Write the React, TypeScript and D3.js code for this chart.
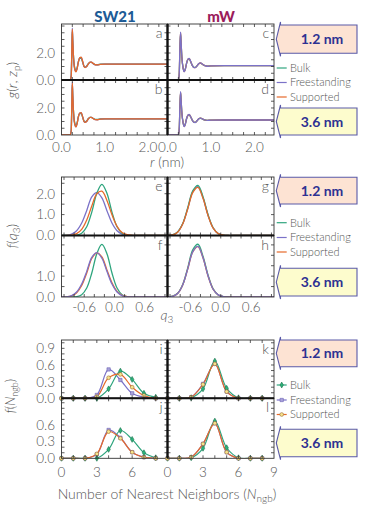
import React from "react";
import * as d3 from "d3";

// ---------------- series meta ----------------
const SERIES_NAMES = ["Bulk", "Freestanding", "Supported"];
const SERIES_COLORS = ["#2fa57e", "#7b72c8", "#e6692a"];
const MARKER_FILLS = ["#2bb37a", "#aaa3da", "#f6e38c"];
const MARKER_STROKES = ["#1d6e4c", "#6a60b4", "#9a6a32"];

// ---------------- g(r, z_p) ----------------
const R_SW21 = [0, 0.2, 0.225, 0.24, 0.25, 0.26, 0.28, 0.31, 0.335, 0.36, 0.39, 0.42, 0.455, 0.49, 0.52, 0.545, 0.58, 0.62, 0.66, 0.69, 0.73, 0.78, 0.83, 0.9, 1.0, 1.3, 1.8, 2.45];
const GA_BULK = [0, 0, 0.3, 2.3, 3.6, 2.9, 1.6, 0.85, 0.7, 0.9, 1.35, 1.6, 1.6, 1.3, 1.03, 0.96, 1.02, 1.2, 1.3, 1.3, 1.22, 1.14, 1.13, 1.17, 1.18, 1.18, 1.18, 1.18];
const GA_FREE = [0, 0, 0.35, 2.5, 3.85, 3.0, 1.55, 0.75, 0.62, 0.85, 1.35, 1.65, 1.68, 1.35, 1.0, 0.93, 1.0, 1.2, 1.32, 1.32, 1.22, 1.13, 1.12, 1.16, 1.18, 1.18, 1.18, 1.18];
const GA_SUP = [0, 0, 0.3, 2.4, 3.75, 2.95, 1.55, 0.75, 0.6, 0.82, 1.32, 1.65, 1.7, 1.37, 1.0, 0.92, 0.99, 1.19, 1.32, 1.33, 1.23, 1.13, 1.12, 1.16, 1.18, 1.18, 1.18, 1.18];
const GB_BULK = [0, 0, 0.3, 2.4, 3.7, 2.9, 1.6, 0.85, 0.7, 0.9, 1.35, 1.58, 1.58, 1.3, 1.05, 0.98, 1.03, 1.2, 1.3, 1.3, 1.23, 1.16, 1.15, 1.19, 1.2, 1.2, 1.2, 1.2];
const GB_FREE = [0, 0, 0.35, 2.6, 3.9, 3.0, 1.55, 0.75, 0.6, 0.84, 1.35, 1.62, 1.65, 1.33, 1.0, 0.93, 1.0, 1.2, 1.31, 1.31, 1.22, 1.14, 1.13, 1.17, 1.19, 1.19, 1.19, 1.19];
const GB_SUP = [0, 0, 0.35, 2.55, 3.85, 3.0, 1.55, 0.75, 0.6, 0.83, 1.34, 1.63, 1.66, 1.34, 1.0, 0.93, 1.0, 1.2, 1.31, 1.31, 1.22, 1.14, 1.13, 1.17, 1.19, 1.19, 1.19, 1.19];

const R_MW = [0, 0.25, 0.27, 0.285, 0.3, 0.31, 0.33, 0.36, 0.385, 0.41, 0.44, 0.47, 0.5, 0.53, 0.57, 0.61, 0.64, 0.68, 0.72, 0.76, 0.8, 0.86, 0.92, 1.0, 1.3, 1.8, 2.45];
const GC_BULK = [0, 0, 0.4, 2.2, 3.4, 2.9, 1.7, 0.88, 0.66, 0.82, 1.25, 1.52, 1.56, 1.38, 1.08, 0.93, 0.93, 1.05, 1.2, 1.25, 1.17, 1.06, 1.03, 1.05, 1.06, 1.06, 1.06];
const GC_FREE = [0, 0, 0.5, 2.4, 3.55, 3.0, 1.7, 0.85, 0.62, 0.8, 1.25, 1.55, 1.6, 1.4, 1.08, 0.92, 0.92, 1.05, 1.22, 1.27, 1.18, 1.06, 1.02, 1.05, 1.06, 1.06, 1.06];
const GC_SUP = [0, 0, 0.45, 2.3, 3.5, 2.95, 1.7, 0.86, 0.63, 0.81, 1.25, 1.54, 1.58, 1.39, 1.08, 0.92, 0.92, 1.05, 1.21, 1.26, 1.18, 1.06, 1.02, 1.05, 1.06, 1.06, 1.06];
const GD_BULK = [0, 0, 0.4, 2.0, 3.1, 2.7, 1.65, 0.9, 0.66, 0.82, 1.22, 1.45, 1.5, 1.36, 1.1, 0.95, 0.94, 1.06, 1.2, 1.24, 1.19, 1.11, 1.08, 1.1, 1.11, 1.11, 1.11];
const GD_FREE = [0, 0, 0.45, 2.1, 3.2, 2.75, 1.65, 0.88, 0.62, 0.8, 1.22, 1.46, 1.52, 1.37, 1.1, 0.93, 0.92, 1.05, 1.2, 1.25, 1.2, 1.11, 1.08, 1.1, 1.11, 1.11, 1.11];
const GD_SUP = [0, 0, 0.42, 2.05, 3.15, 2.72, 1.65, 0.89, 0.63, 0.81, 1.22, 1.46, 1.51, 1.37, 1.1, 0.94, 0.93, 1.05, 1.2, 1.25, 1.2, 1.11, 1.08, 1.1, 1.11, 1.11, 1.11];

// ---------------- f(q3) ----------------
const Q3 = [-1.05, -0.95, -0.85, -0.75, -0.65, -0.55, -0.45, -0.35, -0.25, -0.15, -0.05, 0.05, 0.15, 0.25, 0.35, 0.45, 0.55, 0.65, 0.75, 0.85, 0.95, 1.05];
const FE_BULK = [0, 0, 0, 0.02, 0.11, 0.42, 1.12, 2.02, 2.45, 2.02, 1.12, 0.42, 0.11, 0.02, 0, 0, 0, 0, 0, 0, 0, 0];
const FE_FREE = [0, 0.01, 0.07, 0.23, 0.6, 1.2, 1.85, 2.05, 1.8, 1.19, 0.6, 0.23, 0.07, 0.01, 0, 0, 0, 0, 0, 0, 0, 0];
const FE_SUP = [0, 0, 0.02, 0.09, 0.29, 0.74, 1.41, 2.0, 2.12, 1.68, 0.99, 0.44, 0.14, 0.04, 0.01, 0, 0, 0, 0, 0, 0, 0];
const FF_BULK = [0, 0, 0, 0.02, 0.11, 0.43, 1.15, 2.08, 2.52, 2.08, 1.15, 0.43, 0.11, 0.02, 0, 0, 0, 0, 0, 0, 0, 0];
const FF_FREE = [0, 0.01, 0.07, 0.24, 0.62, 1.23, 1.9, 2.13, 1.86, 1.23, 0.62, 0.24, 0.07, 0.01, 0, 0, 0, 0, 0, 0, 0, 0];
const FF_SUP = [0, 0.01, 0.05, 0.2, 0.55, 1.15, 1.85, 2.12, 1.92, 1.3, 0.68, 0.27, 0.08, 0.02, 0, 0, 0, 0, 0, 0, 0, 0];
const FG_BULK = [0.01, 0.035, 0.17, 0.57, 1.34, 2.15, 2.4, 1.86, 0.99, 0.37, 0.09, 0.02, 0, 0, 0, 0, 0, 0, 0, 0, 0, 0];
const FG_FREE = [0.01, 0.03, 0.17, 0.56, 1.3, 2.1, 2.34, 1.81, 0.97, 0.36, 0.09, 0.02, 0, 0, 0, 0, 0, 0, 0, 0, 0, 0];
const FG_SUP = [0.01, 0.03, 0.16, 0.55, 1.28, 2.06, 2.3, 1.78, 0.95, 0.35, 0.09, 0.02, 0, 0, 0, 0, 0, 0, 0, 0, 0, 0];
const FH_BULK = [0.01, 0.04, 0.18, 0.6, 1.41, 2.27, 2.53, 1.96, 1.05, 0.39, 0.1, 0.02, 0, 0, 0, 0, 0, 0, 0, 0, 0, 0];
const FH_FREE = [0.01, 0.035, 0.17, 0.58, 1.35, 2.18, 2.43, 1.88, 1.01, 0.37, 0.1, 0.02, 0, 0, 0, 0, 0, 0, 0, 0, 0, 0];
const FH_SUP = [0.01, 0.035, 0.17, 0.58, 1.35, 2.17, 2.42, 1.88, 1.0, 0.37, 0.095, 0.02, 0, 0, 0, 0, 0, 0, 0, 0, 0, 0];

// ---------------- f(N_ngb) ----------------
const NGB = [0, 1, 2, 3, 4, 5, 6, 7, 8];
const NI_BULK = [0, 0, 0, 0, 0.17, 0.49, 0.34, 0.09, 0.02];
const NI_FREE = [0, 0, 0, 0.06, 0.52, 0.33, 0.09, 0.02, 0];
const NI_SUP = [0, 0, 0, 0.03, 0.37, 0.43, 0.2, 0.05, 0];
const NJ_BULK = [0, 0, 0, 0, 0.16, 0.5, 0.34, 0.1, 0.01];
const NJ_FREE = [0, 0, 0, 0.07, 0.51, 0.37, 0.11, 0.02, 0];
const NJ_SUP = [0, 0, 0, 0.08, 0.48, 0.36, 0.11, 0.02, 0];
const NK_BULK = [0, 0, 0.01, 0.17, 0.67, 0.18, 0.01, 0, 0];
const NK_FREE = [0, 0, 0.02, 0.26, 0.62, 0.12, 0, 0, 0];
const NK_SUP = [0, 0, 0.02, 0.25, 0.62, 0.12, 0, 0, 0];
const NL_BULK = [0, 0, 0.01, 0.18, 0.67, 0.19, 0.01, 0, 0];
const NL_FREE = [0, 0, 0.02, 0.26, 0.63, 0.11, 0, 0, 0];
const NL_SUP = [0, 0, 0.02, 0.26, 0.63, 0.11, 0, 0, 0];

// ---------------- ticks / labels ----------------
const R_TICKS = [0, 1, 2];
const R_MINOR = [0.25, 0.5, 0.75, 1, 1.25, 1.5, 1.75, 2, 2.25];
const G_YTICKS = [[0, 2], [0, 2]];
const G_YMINOR = [0.5, 1, 1.5, 2, 2.5, 3, 3.5, 4];
const Q_TICKS = [-0.6, 0, 0.6];
const Q_MINOR = [-1.0, -0.8, -0.6, -0.4, -0.2, 0, 0.2, 0.4, 0.6, 0.8, 1.0];
const F_YTICKS = [[0, 1, 2], [0, 1]];
const F_YMINOR = [0.5, 1, 1.5, 2, 2.5];
const N_TICKS = [[0, 3, 6], [0, 3, 6, 9]];
const N_MINOR = [1, 2, 3, 4, 5, 6, 7, 8];
const NY_TICKS = [[0, 0.3, 0.6, 0.9], [0, 0.3, 0.6]];
const NY_MINOR = [0.1, 0.2, 0.3, 0.4, 0.5, 0.6, 0.7, 0.8, 0.9, 1.0];
const SIZE_LABELS = ["1.2 nm", "3.6 nm"];
const MODEL_TITLES = ["SW21", "mW"];

// ---------------- layout ----------------
const W = 365, H = 505;
const X0 = 61.5, XM = 167.5, X2 = 274;
const FONT = "Lato, 'Open Sans', 'DejaVu Sans', sans-serif";
const TXT = "#555";

type Section = {
  rows: number[];
  xDomain: [number, number];
  yMax: number[];
  xTicks: (col: number) => number[];
  xMinor: number[];
  yTicks: number[][];
  yMinor: number[];
  fmtX: (v: number) => string;
  fmtY: (v: number) => string;
  xLabelY: number;
  curve: any;
  width: number;
  markers: boolean;
  legendY: number[];
  arrows: [number, number][];
};

const SECTIONS: Record<string, Section> = {
  g: {
    rows: [24, 80, 135], xDomain: [0, 2.45], yMax: [4.15, 4.07],
    xTicks: () => R_TICKS, xMinor: R_MINOR, yTicks: G_YTICKS, yMinor: G_YMINOR,
    fmtX: d3.format(".1f"), fmtY: d3.format(".1f"), xLabelY: 151.5,
    curve: d3.curveMonotoneX, width: 1.3, markers: false,
    legendY: [68, 82.5, 97], arrows: [[25, 53.3], [108, 135]],
  },
  q: {
    rows: [177, 235.5, 297], xDomain: [-1.05, 1.05], yMax: [2.8, 2.95],
    xTicks: () => Q_TICKS, xMinor: Q_MINOR, yTicks: F_YTICKS, yMinor: F_YMINOR,
    fmtX: (v) => (v === 0 ? "0.0" : d3.format(".1f")(v)), fmtY: d3.format(".1f"), xLabelY: 311.5,
    curve: d3.curveCatmullRom.alpha(0.5), width: 1.3, markers: false,
    legendY: [222.7, 237.5, 252], arrows: [[177.3, 204], [268.3, 296]],
  },
  n: {
    rows: [340, 398.3, 458.3], xDomain: [0, 9], yMax: [1.05, 1.08],
    xTicks: (col) => N_TICKS[col], xMinor: N_MINOR, yTicks: NY_TICKS, yMinor: NY_MINOR,
    fmtX: d3.format("d"), fmtY: d3.format(".1f"), xLabelY: 476.5,
    curve: d3.curveCatmullRom.alpha(0.5), width: 1.2, markers: true,
    legendY: [385, 400, 414.5], arrows: [[340, 366.7], [429.3, 456.7]],
  },
};

type PanelCfg = { letter: string; sec: string; col: number; row: number; xs: number[]; series: number[][]; order: number[] };

const PANELS: PanelCfg[] = [
  { letter: "a", sec: "g", col: 0, row: 0, xs: R_SW21, series: [GA_BULK, GA_FREE, GA_SUP], order: [0, 1, 2] },
  { letter: "b", sec: "g", col: 0, row: 1, xs: R_SW21, series: [GB_BULK, GB_FREE, GB_SUP], order: [0, 1, 2] },
  { letter: "c", sec: "g", col: 1, row: 0, xs: R_MW, series: [GC_BULK, GC_FREE, GC_SUP], order: [0, 2, 1] },
  { letter: "d", sec: "g", col: 1, row: 1, xs: R_MW, series: [GD_BULK, GD_FREE, GD_SUP], order: [0, 2, 1] },
  { letter: "e", sec: "q", col: 0, row: 0, xs: Q3, series: [FE_BULK, FE_FREE, FE_SUP], order: [1, 0, 2] },
  { letter: "f", sec: "q", col: 0, row: 1, xs: Q3, series: [FF_BULK, FF_FREE, FF_SUP], order: [0, 2, 1] },
  { letter: "g", sec: "q", col: 1, row: 0, xs: Q3, series: [FG_BULK, FG_FREE, FG_SUP], order: [1, 0, 2] },
  { letter: "h", sec: "q", col: 1, row: 1, xs: Q3, series: [FH_BULK, FH_FREE, FH_SUP], order: [0, 2, 1] },
  { letter: "i", sec: "n", col: 0, row: 0, xs: NGB, series: [NI_BULK, NI_FREE, NI_SUP], order: [1, 0, 2] },
  { letter: "j", sec: "n", col: 0, row: 1, xs: NGB, series: [NJ_BULK, NJ_FREE, NJ_SUP], order: [1, 0, 2] },
  { letter: "k", sec: "n", col: 1, row: 0, xs: NGB, series: [NK_BULK, NK_FREE, NK_SUP], order: [1, 0, 2] },
  { letter: "l", sec: "n", col: 1, row: 1, xs: NGB, series: [NL_BULK, NL_FREE, NL_SUP], order: [1, 0, 2] },
];

function markerPath(idx: number) {
  if (idx === 0) return d3.symbol(d3.symbolDiamond, 10)()!;
  if (idx === 1) return d3.symbol(d3.symbolSquare, 11)()!;
  return d3.symbol(d3.symbolCircle, 11)()!;
}

function Panel({ cfg }: { cfg: PanelCfg }) {
  const sec = SECTIONS[cfg.sec];
  const x0 = cfg.col === 0 ? X0 : XM;
  const x1 = cfg.col === 0 ? XM : X2;
  const y0 = sec.rows[cfg.row];
  const y1 = sec.rows[cfg.row + 1];
  const x = d3.scaleLinear().domain(sec.xDomain).range([x0, x1]);
  const y = d3.scaleLinear().domain([0, sec.yMax[cfg.row]]).range([y1, y0]);
  const line = d3.line<number>().x((_, i) => x(cfg.xs[i])).y((d) => y(d)).curve(sec.curve);
  const clipId = `clip-${cfg.letter}`;
  const tl = 3;
  return (
    <g>
      <defs>
        <clipPath id={clipId}>
          <rect x={x0} y={y0} width={x1 - x0} height={y1 - y0} />
        </clipPath>
      </defs>
      <g clipPath={`url(#${clipId})`}>
        {cfg.order.map((si) => (
          <path key={si} d={line(cfg.series[si]) || ""} fill="none" stroke={SERIES_COLORS[si]} strokeWidth={sec.width} strokeLinejoin="round" />
        ))}
      </g>
      {sec.markers &&
        cfg.order.map((si) => (
          <g key={"m" + si}>
            {cfg.series[si].map((v, i) => (
              <path key={i} d={markerPath(si)} transform={`translate(${x(cfg.xs[i])},${y(v)})`} fill={MARKER_FILLS[si]} stroke={MARKER_STROKES[si]} strokeWidth={0.6} />
            ))}
          </g>
        ))}
      <rect x={x0} y={y0} width={x1 - x0} height={y1 - y0} fill="none" stroke="#333" strokeWidth={0.9} />
      {sec.xMinor.map((v) => (
        <g key={"xm" + v} stroke="#333" strokeWidth={0.8}>
          <line x1={x(v)} x2={x(v)} y1={y1} y2={y1 - tl} />
          <line x1={x(v)} x2={x(v)} y1={y0} y2={y0 + tl} />
        </g>
      ))}
      {sec.yMinor.filter((v) => y(v) > y0 + 1).map((v) => (
        <g key={"ym" + v} stroke="#333" strokeWidth={0.8}>
          <line x1={x0} x2={x0 + tl} y1={y(v)} y2={y(v)} />
          <line x1={x1} x2={x1 - tl} y1={y(v)} y2={y(v)} />
        </g>
      ))}
      {cfg.row === 1 &&
        sec.xTicks(cfg.col).map((v) => (
          <text key={"xl" + v} x={x(v)} y={sec.xLabelY} textAnchor="middle" fontSize={13.5} fill={TXT} fontFamily={FONT} fontWeight={300}>
            {sec.fmtX(v).replace("\u2212", "-")}
          </text>
        ))}
      {cfg.col === 0 &&
        sec.yTicks[cfg.row].map((v) => (
          <text key={"yl" + v} x={55} y={y(v)} dy="0.36em" textAnchor="end" fontSize={13.5} fill={TXT} fontFamily={FONT} fontWeight={300}>
            {sec.fmtY(v)}
          </text>
        ))}
      <text x={x1 - 5} y={y0 + 14} textAnchor="end" fontSize={14} fill={TXT} fontFamily={FONT} fontWeight={300}>
        {cfg.letter}
      </text>
    </g>
  );
}

function Dividers({ rows }: { rows: number[] }) {
  return (
    <g stroke="#111">
      <line x1={XM} x2={XM} y1={rows[0]} y2={rows[2]} strokeWidth={2.4} />
      <line x1={X0} x2={X2} y1={rows[1]} y2={rows[1]} strokeWidth={2} />
    </g>
  );
}

function Arrow({ top, bottom, label, fill }: { top: number; bottom: number; label: string; fill: string }) {
  const L = 280.5, R = 357, tip = 276.3, mid = (top + bottom) / 2;
  const d = `M${L},${top - 3}L${L},${top}L${R},${top}L${R},${bottom}L${L},${bottom}L${L},${bottom + 3}L${tip},${mid}Z`;
  return (
    <g>
      <path d={d} fill={fill} stroke="#5a5aa8" strokeWidth={1.1} strokeLinejoin="miter" />
      <text x={322} y={mid} dy="0.36em" textAnchor="middle" fontSize={14} fontWeight={700} fill="#2e3192" fontFamily={FONT}>
        {label}
      </text>
    </g>
  );
}

function Legend({ sec }: { sec: Section }) {
  return (
    <g>
      {SERIES_NAMES.map((name, i) => (
        <g key={name}>
          <line x1={276.7} x2={286.7} y1={sec.legendY[i]} y2={sec.legendY[i]} stroke={SERIES_COLORS[i]} strokeWidth={1.2} />
          {sec.markers && (
            <path d={markerPath(i)} transform={`translate(281.7,${sec.legendY[i]})`} fill={MARKER_FILLS[i]} stroke={MARKER_STROKES[i]} strokeWidth={0.6} />
          )}
          <text x={290} y={sec.legendY[i]} dy="0.36em" fontSize={11} fill={TXT} fontFamily={FONT} fontWeight={300}>
            {name}
          </text>
        </g>
      ))}
    </g>
  );
}

export default function App() {
  const secKeys = ["g", "q", "n"];
  const arrowFills = ["#fde3d3", "#fdfccd"];
  return (
    <svg width={W} height={H} viewBox={`0 0 ${W} ${H}`} style={{ position: "absolute", left: 0, top: 0, background: "#fff" }}>
      <rect x={0} y={0} width={W} height={H} fill="#fff" />
      <text x={115} y={21.5} textAnchor="middle" fontSize={15} fontWeight={900} fill="#1d5b96" fontFamily={FONT}>
        {MODEL_TITLES[0]}
      </text>
      <text x={221} y={21.5} textAnchor="middle" fontSize={15} fontWeight={900} fill="#9b1c5b" fontFamily={FONT}>
        {MODEL_TITLES[1]}
      </text>
      {PANELS.map((p) => (
        <Panel key={p.letter} cfg={p} />
      ))}
      {secKeys.map((k) => (
        <g key={k}>
          <Dividers rows={SECTIONS[k].rows} />
          <Legend sec={SECTIONS[k]} />
          {SECTIONS[k].arrows.map((a, i) => (
            <Arrow key={i} top={a[0]} bottom={a[1]} label={SIZE_LABELS[i]} fill={arrowFills[i]} />
          ))}
        </g>
      ))}
      {/* axis titles */}
      <text transform="translate(12,80) rotate(-90)" textAnchor="middle" dy="0.36em" fontSize={14} fill={TXT} fontFamily={FONT} fontWeight={300}>
        <tspan fontStyle="italic">g</tspan>(<tspan fontStyle="italic">r</tspan>, <tspan fontStyle="italic">z</tspan>
        <tspan fontSize={10} dy={3}>p</tspan>
        <tspan dy={-3}>)</tspan>
      </text>
      <text transform="translate(12,236) rotate(-90)" textAnchor="middle" dy="0.36em" fontSize={14} fill={TXT} fontFamily={FONT} fontWeight={300}>
        <tspan fontStyle="italic">f</tspan>(<tspan fontStyle="italic">q</tspan>
        <tspan fontSize={10} dy={3}>3</tspan>
        <tspan dy={-3}>)</tspan>
      </text>
      <text transform="translate(10,396) rotate(-90)" textAnchor="middle" dy="0.36em" fontSize={13} fill={TXT} fontFamily={FONT} fontWeight={300}>
        <tspan fontStyle="italic">f</tspan>(<tspan fontStyle="italic">N</tspan>
        <tspan fontSize={9} dy={3}>ngb</tspan>
        <tspan dy={-3}>)</tspan>
      </text>
      <text x={167} y={167} textAnchor="middle" fontSize={14} fill={TXT} fontFamily={FONT} fontWeight={300}>
        <tspan fontStyle="italic">r</tspan> (nm)
      </text>
      <text x={167} y={320} textAnchor="middle" fontSize={14} fill={TXT} fontFamily={FONT} fontWeight={300}>
        <tspan fontStyle="italic">q</tspan>
        <tspan fontSize={10} dy={3}>3</tspan>
      </text>
      <text x={167} y={499} textAnchor="middle" fontSize={14} fill={TXT} fontFamily={FONT} fontWeight={300}>
        Number of Nearest Neighbors (<tspan fontStyle="italic">N</tspan>
        <tspan fontSize={10} dy={3}>ngb</tspan>
        <tspan dy={-3}>)</tspan>
      </text>
    </svg>
  );
}
